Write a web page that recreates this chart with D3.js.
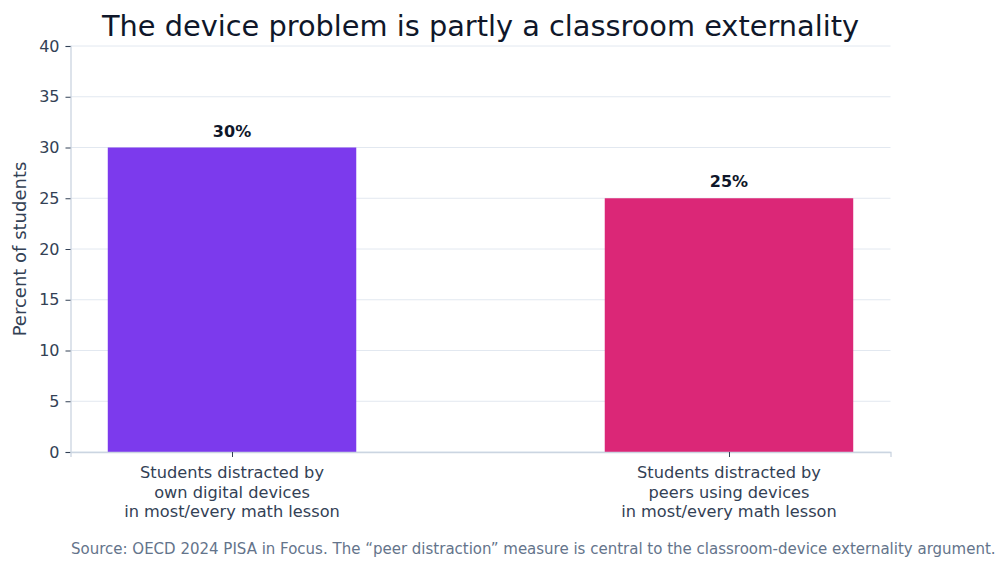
<!DOCTYPE html>
<html><head><meta charset="utf-8">
<script src="https://cdn.jsdelivr.net/npm/d3@7"></script>
<style>body{margin:0;background:#fff}svg{display:block;font-family:"DejaVu Sans",sans-serif}</style>
</head><body>
<script>
const categories = [
  ["Students distracted by","own digital devices","in most/every math lesson"],
  ["Students distracted by","peers using devices","in most/every math lesson"]
];
const values = [30, 25];
const colors = ["#7c3aed", "#db2777"];
const yTicks = [0,5,10,15,20,25,30,35,40];
const title = "The device problem is partly a classroom externality";
const yLabel = "Percent of students";
const source = "Source: OECD 2024 PISA in Focus. The \u201cpeer distraction\u201d measure is central to the classroom-device externality argument.";

const W = 1005, H = 569;
const m = {left:70.5, right:890.5, top:46, bottom:452};
const svg = d3.select("body").append("svg").attr("width",W).attr("height",H);

const x = d3.scaleLinear().domain([-0.325, 1.325]).range([m.left, m.right]);
const y = d3.scaleLinear().domain([0, 40]).range([m.bottom, m.top]);
const bw = x(0.5) - x(0);

// grid
svg.append("g").selectAll("line").data(yTicks).join("line")
  .attr("x1", m.left).attr("x2", m.right)
  .attr("y1", d=>y(d)).attr("y2", d=>y(d))
  .attr("stroke", "#e2e8f0").attr("stroke-width", 1);

// bars
svg.append("g").selectAll("rect").data(values).join("rect")
  .attr("x", (d,i)=>x(i)-bw/2).attr("width", bw)
  .attr("y", d=>y(d)).attr("height", d=>y(0)-y(d))
  .attr("fill", (d,i)=>colors[i]);

// value labels
svg.append("g").selectAll("text").data(values).join("text")
  .attr("x",(d,i)=>x(i)).attr("y", d=>y(d)-11)
  .attr("text-anchor","middle").attr("font-size",16).attr("font-weight","bold")
  .attr("fill","#0f172a").text(d=>d+"%");

// y axis
const ya = svg.append("g").attr("transform",`translate(${m.left},0)`)
  .call(d3.axisLeft(y).tickValues(yTicks).tickSize(5).tickPadding(6));
ya.select(".domain").attr("stroke","#cbd5e1").attr("stroke-width",1.3);
ya.selectAll(".tick line").attr("stroke","#334155");
ya.selectAll("text").attr("font-size",16).attr("fill","#334155").attr("font-family","DejaVu Sans");

// x axis
const xa = svg.append("g").attr("transform",`translate(0,${m.bottom})`)
  .call(d3.axisBottom(x).tickValues([0,1]).tickSize(5).tickFormat(""));
xa.select(".domain").attr("stroke","#cbd5e1").attr("stroke-width",1.3);
xa.selectAll(".tick line").attr("stroke","#334155");

const xl = svg.append("g").selectAll("text").data(categories).join("text")
  .attr("x",(d,i)=>x(i)).attr("y", m.bottom + 26)
  .attr("text-anchor","middle").attr("font-size",16.2).attr("fill","#334155");
xl.selectAll("tspan").data(d=>d).join("tspan")
  .attr("x", function(){return d3.select(this.parentNode).attr("x");})
  .attr("dy",(d,i)=>i===0?0:19.5).text(d=>d);

// y label
svg.append("text").attr("transform",`translate(26,${(m.top+m.bottom)/2}) rotate(-90)`)
  .attr("text-anchor","middle").attr("font-size",18).attr("fill","#334155").text(yLabel);

// title
svg.append("text").attr("x",(m.left+m.right)/2).attr("y",36)
  .attr("text-anchor","middle").attr("font-size",28.8).attr("fill","#0f172a").text(title);

// source
svg.append("text").attr("x",71).attr("y",554)
  .attr("font-size",15).attr("fill","#64748b").text(source);
</script>
</body></html>
